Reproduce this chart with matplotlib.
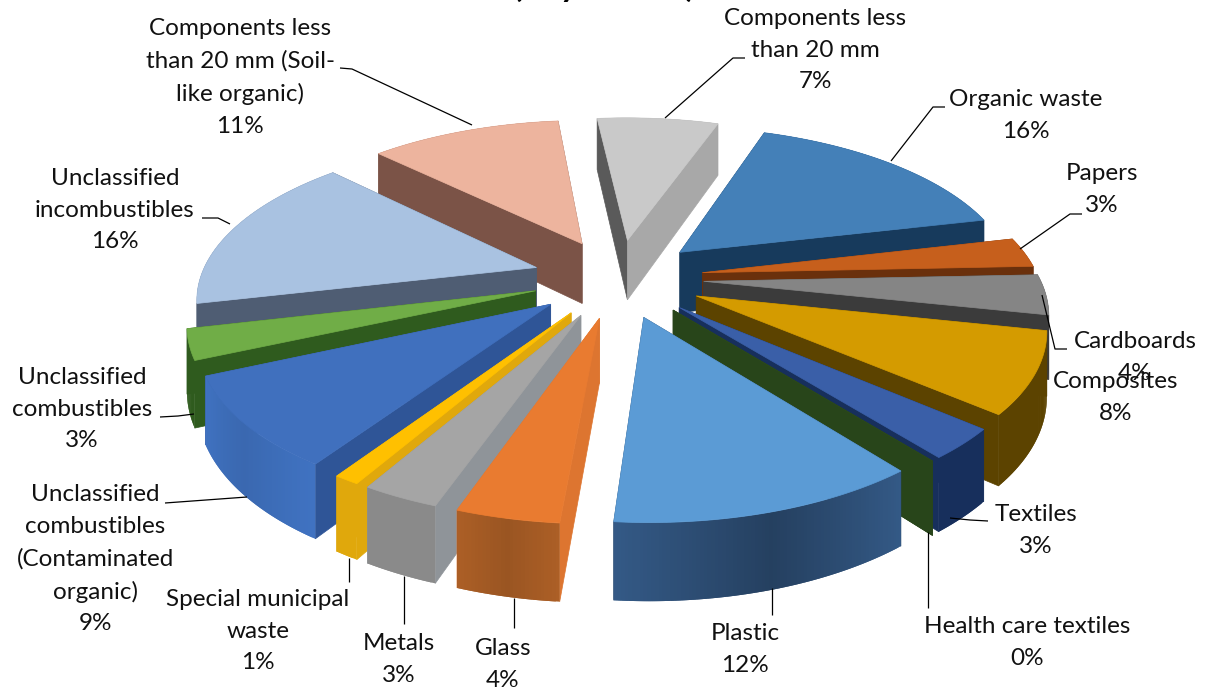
import numpy as np
import matplotlib
matplotlib.use('Agg')
import matplotlib.pyplot as plt
from matplotlib.colors import to_rgb
from matplotlib.patches import Polygon

plt.rcParams['font.family'] = ['Lato', 'DejaVu Sans']

# waste fractions in percent, clockwise from the top
categories = ['Components less\nthan 20 mm', 'Organic waste', 'Papers', 'Cardboards', 'Composites',
              'Textiles', 'Health care textiles', 'Plastic', 'Glass', 'Metals',
              'Special municipal\nwaste', 'Unclassified\ncombustibles\n(Contaminated\norganic)',
              'Unclassified\ncombustibles', 'Unclassified\nincombustibles',
              'Components less\nthan 20 mm (Soil-\nlike organic)']
percents = [7, 16, 3, 4, 8, 3, 0, 12, 4, 3, 1, 9, 3, 16, 11]

top_colors = ['#C9C9C9', '#4480B8', '#C65F1C', '#858585', '#D49B00', '#3A5FA8', '#2C4A1C', '#5B9BD5',
              '#E97B30', '#A5A5A5', '#FFC000', '#4070BE', '#70AD47', '#A9C2E1', '#EDB49E']
rim_colors = ['#A5A5A5', '#173A5C', '#6A300C', '#3B3B3B', '#5C4300', '#172F5C', '#28451A', '#254060',
              '#9A5522', '#8A8A8A', '#E0A80C', '#3A68B0', '#2F5B1E', '#4F5D73', '#7B5347']
# faces cut along the radius, leading edge then trailing edge of each slice
lead_colors = ['#5A5A5A', '#173A5C', '#6A300C', '#3B3B3B', '#5C4300', '#172F5C', '#28451A', '#28496C',
               '#DD7530', '#8F9499', '#E0A80C', '#2F5597', '#2F5B1E', '#4F5D73', '#7B5347']
trail_colors = ['#A8A8A8', '#173A5C', '#6A300C', '#3B3B3B', '#5C4300', '#172F5C', '#28451A', '#28496C',
                '#DD7530', '#8F9499', '#E0A80C', '#2F5597', '#2F5B1E', '#4F5D73', '#7B5347']
# how much the outer wall brightens towards the ends of a slice
rim_sheen = [0, 0, 0, 0, 0, 0, 0, 0.4, 0.12, 0, 0, 0.1, 0, 0, 0]

label_x = [815, 1026, 1102, 1135, 1116, 1036, 1027, 745, 503, 399, 258, 95, 82, 115, 240]
label_y = [17, 98, 172, 340, 380, 513, 625, 632, 647, 642, 598, 493, 376, 177, 27]

leaders = [
    [(745, 58), (733, 58), (665, 118)],
    [(945, 107), (933, 107), (891, 161)],
    [(1082, 214), (1070, 214), (1020, 249)],
    [(1067, 349), (1055, 349), (1042, 295)],
    [(988, 521), (970, 520), (950, 518)],
    [(928, 608), (928, 532)],
    [(772, 615), (772, 588)],
    [(514, 628), (514, 598)],
    [(404, 624), (404, 576)],
    [(349, 582), (349, 558)],
    [(165, 503), (247, 497)],
    [(160, 417), (178, 416), (194, 414)],
    [(202, 218), (218, 218), (230, 224)],
    [(340, 68), (352, 69), (472, 125)],
]

start_angle = -6.0
explode = 0.255
cx, cy = 618.0, 278.0
rx, ry = 336.0, 155.0
persp = 0.17
thick = 62.0


def project(x, y, drop=0.0):
    # x across, y towards the viewer, drop is the distance below the top face
    s = 1.0 / (1.0 - persp * y)
    return np.column_stack([cx + rx * x * s, cy + ry * y * s + thick * drop * s])


def slice_outline(a0, a1):
    mid = np.radians((a0 + a1) / 2)
    ox, oy = explode * np.sin(mid), -explode * np.cos(mid)
    t = np.radians(np.linspace(a0, a1, max(int(a1 - a0) * 2, 2)))
    return ox, oy, ox + np.sin(t), oy - np.cos(t)


def draw_rim(i, xs, ys):
    # outer wall in short overlapping strips so it can carry a little shading
    base = np.array(to_rgb(rim_colors[i]))
    n = len(xs) - 1
    for k in range(n):
        off = abs((k + 0.5) / n - 0.5) * 2
        col = np.clip(base * (1 + rim_sheen[i] * off), 0, 1)
        seg_x, seg_y = xs[k:k + 3], ys[k:k + 3]
        strip = np.vstack([project(seg_x, seg_y), project(seg_x, seg_y, 1.0)[::-1]])
        ax.add_patch(Polygon(strip, closed=True, facecolor=col, edgecolor='none'))


fig = plt.figure(figsize=(12.07, 6.93), dpi=100)
ax = fig.add_axes([0, 0, 1, 1])
ax.set_xlim(0, 1207)
ax.set_ylim(693, 0)
ax.axis('off')

edges = start_angle + np.concatenate([[0], np.cumsum(percents)]) * 3.6
order = sorted(range(len(percents)), key=lambda i: -np.cos(np.radians((edges[i] + edges[i + 1]) / 2)))

for i in order:
    ox, oy, xs, ys = slice_outline(edges[i], edges[i + 1])
    at_back = ys.mean() < oy

    # a far wall goes under the cut faces, a near wall goes over them
    if at_back:
        draw_rim(i, xs, ys)
    lead = np.vstack([project(np.array([ox, xs[0]]), np.array([oy, ys[0]])),
                      project(np.array([xs[0], ox]), np.array([ys[0], oy]), 1.0)])
    trail = np.vstack([project(np.array([ox, xs[-1]]), np.array([oy, ys[-1]])),
                       project(np.array([xs[-1], ox]), np.array([ys[-1], oy]), 1.0)])
    faces = [(lead, lead_colors[i], (oy + ys[0]) / 2), (trail, trail_colors[i], (oy + ys[-1]) / 2)]
    for pts, col, depth in sorted(faces, key=lambda f: f[2]):
        ax.add_patch(Polygon(pts, closed=True, facecolor=col, edgecolor=col, linewidth=0.5))
    if not at_back:
        draw_rim(i, xs, ys)

    top = project(np.concatenate([[ox], xs]), np.concatenate([[oy], ys]))
    ax.add_patch(Polygon(top, closed=True, facecolor=top_colors[i], edgecolor=top_colors[i], linewidth=0.5))

for pts in leaders:
    ax.plot([p[0] for p in pts], [p[1] for p in pts], color='black', lw=0.9, solid_capstyle='butt')

for name, pct, x, y in zip(categories, percents, label_x, label_y):
    ax.text(x, y - 9, '%s\n%d%%' % (name, pct), ha='center', va='top', fontsize=17.5,
            color='#111111', linespacing=1.63)

# chart title runs off the top edge, only its descenders stay on the canvas
ax.text(604, -3, '(Dry matter)', ha='center', va='baseline', fontsize=24, fontweight='bold', color='black')

fig.savefig('out.png', dpi=100)
